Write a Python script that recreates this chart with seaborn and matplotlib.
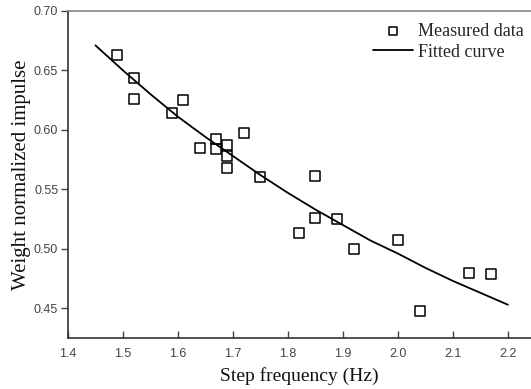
import numpy as np
import pandas as pd
import seaborn as sns
import matplotlib.pyplot as plt

# measured points
step_freq = [1.49, 1.52, 1.52, 1.59, 1.61, 1.64, 1.67, 1.67, 1.69, 1.69, 1.69,
             1.72, 1.75, 1.82, 1.85, 1.85, 1.89, 1.92, 2.00, 2.04, 2.13, 2.17]
impulse = [0.663, 0.644, 0.626, 0.614, 0.625, 0.585, 0.592, 0.584, 0.587, 0.578, 0.568,
           0.597, 0.560, 0.513, 0.561, 0.526, 0.525, 0.500, 0.507, 0.448, 0.480, 0.479]

# fitted curve
fit_x = [1.45, 1.50, 1.55, 1.60, 1.65, 1.70, 1.75, 1.80, 1.85, 1.90, 1.95, 2.00, 2.05, 2.10, 2.15, 2.20]
fit_y = [0.671, 0.650, 0.630, 0.611, 0.594, 0.578, 0.562, 0.547, 0.533, 0.520, 0.507, 0.496, 0.484, 0.473, 0.463, 0.453]

x_ticks = [1.4, 1.5, 1.6, 1.7, 1.8, 1.9, 2.0, 2.1, 2.2]
y_ticks = [0.45, 0.50, 0.55, 0.60, 0.65, 0.70]

df = pd.DataFrame({"freq": step_freq, "imp": impulse})
fit = pd.DataFrame({"freq": fit_x, "imp": fit_y})

sns.set_style("ticks")
plt.rcParams["font.family"] = ["Liberation Sans", "DejaVu Sans"]

fig = plt.figure(figsize=(5.31, 3.89), dpi=100)
ax = fig.add_axes([0.128, 0.131, 0.872, 0.841])

sns.scatterplot(data=df, x="freq", y="imp", ax=ax, marker="s", s=52,
                facecolor="none", edgecolor="black", linewidth=1.1,
                label="Measured data", zorder=3)
sns.lineplot(data=fit, x="freq", y="imp", ax=ax, color="black", linewidth=1.3,
             label="Fitted curve")

ax.set_xlim(1.4, 2.242)
ax.set_ylim(0.425, 0.70)
ax.set_xticks(x_ticks)
ax.set_yticks(y_ticks)
ax.set_xticklabels([f"{v:.1f}" for v in x_ticks])
ax.set_yticklabels([f"{v:.2f}" for v in y_ticks])
ax.tick_params(axis="x", direction="in", length=5, width=1, labelsize=9,
               colors="#444444", pad=7)
ax.tick_params(axis="y", direction="out", length=5, width=1, labelsize=9,
               colors="#444444", pad=2)

for s in ["left", "bottom"]:
    ax.spines[s].set_color("#333333")
    ax.spines[s].set_linewidth(1.2)
ax.spines["top"].set_color("#888888")
ax.spines["top"].set_linewidth(1.2)
ax.spines["right"].set_visible(False)

serif = ["Liberation Serif", "DejaVu Serif"]
ax.set_xlabel("Step frequency (Hz)", family=serif, fontsize=14, color="#111111", labelpad=5)
ax.set_ylabel("Weight normalized impulse", family=serif, fontsize=15, color="#111111", labelpad=2)

leg = ax.legend(loc="upper right", bbox_to_anchor=(1.0, 0.985), frameon=False,
                prop={"family": serif, "size": 13},
                handlelength=2.2, handletextpad=0.3, labelspacing=0.2,
                borderaxespad=0.0, markerscale=0.8)

fig.savefig("out.png", dpi=100)
